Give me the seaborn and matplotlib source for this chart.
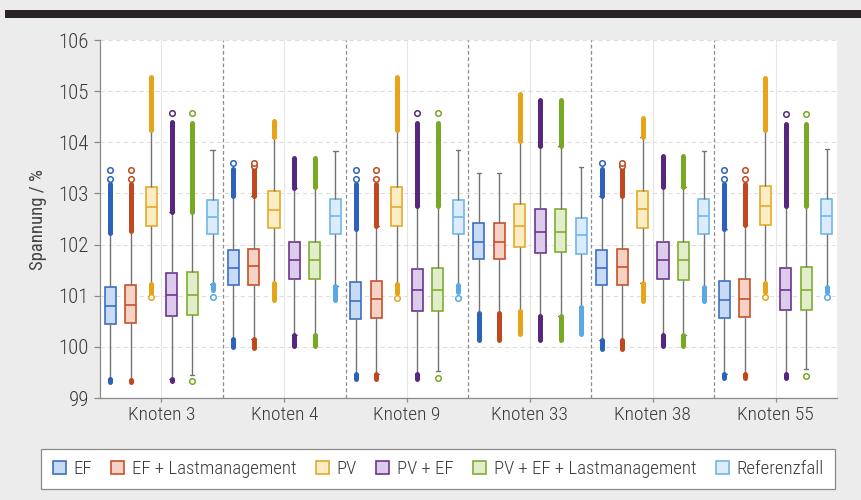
import numpy as np
import pandas as pd
import matplotlib
matplotlib.use("Agg")
import matplotlib.pyplot as plt
import matplotlib.patches as mpatches
import seaborn as sns

knoten = ['Knoten 3', 'Knoten 4', 'Knoten 9', 'Knoten 33', 'Knoten 38', 'Knoten 55']
szenarien = ['EF', 'EF + Lastmanagement', 'PV', 'PV + EF', 'PV + EF + Lastmanagement', 'Referenzfall']

# Zeilen = Szenario, Spalten = Knoten
median = [
    [100.80, 101.55, 100.90, 102.06, 101.55, 100.92],
    [100.82, 101.58, 100.93, 102.06, 101.56, 100.93],
    [102.74, 102.68, 102.74, 102.36, 102.69, 102.75],
    [101.01, 101.69, 101.11, 102.25, 101.69, 101.12],
    [101.01, 101.69, 101.11, 102.25, 101.69, 101.12],
    [102.53, 102.56, 102.53, 102.18, 102.56, 102.56],
]
q1 = [
    [100.45, 101.20, 100.54, 101.71, 101.20, 100.56],
    [100.47, 101.21, 100.56, 101.71, 101.20, 100.58],
    [102.36, 102.32, 102.36, 101.95, 102.33, 102.38],
    [100.61, 101.32, 100.70, 101.84, 101.32, 100.72],
    [100.62, 101.32, 100.71, 101.85, 101.31, 100.72],
    [102.20, 102.21, 102.20, 101.81, 102.20, 102.21],
]
q3 = [
    [101.18, 101.90, 101.27, 102.42, 101.90, 101.29],
    [101.21, 101.92, 101.29, 102.42, 101.91, 101.32],
    [103.13, 103.04, 103.13, 102.79, 103.05, 103.15],
    [101.45, 102.05, 101.53, 102.69, 102.05, 101.54],
    [101.46, 102.05, 101.54, 102.69, 102.05, 101.56],
    [102.87, 102.90, 102.87, 102.52, 102.90, 102.89],
]
whis_lo = [
    [99.38, 100.16, 99.46, 100.67, 100.14, 99.46],
    [99.35, 100.16, 99.46, 100.67, 100.14, 99.46],
    [101.23, 101.25, 101.23, 100.71, 101.25, 101.24],
    [99.37, 100.24, 99.46, 100.61, 100.24, 99.46],
    [99.45, 100.24, 99.53, 100.61, 100.24, 99.56],
    [101.23, 101.19, 101.21, 100.78, 101.18, 101.18],
]
whis_hi = [
    [102.23, 102.95, 102.31, 103.40, 102.95, 102.31],
    [102.27, 102.95, 102.36, 103.40, 102.95, 102.38],
    [104.24, 104.10, 104.24, 104.02, 104.10, 104.24],
    [102.63, 103.11, 102.75, 103.92, 103.13, 102.75],
    [102.63, 103.13, 102.75, 103.92, 103.13, 102.75],
    [103.84, 103.82, 103.84, 103.51, 103.82, 103.86],
]
# obere / untere Enden der dichten Ausreisserbereiche (None = keine)
aus_hi = [
    [103.19, 103.47, 103.19, None, 103.47, 103.19],
    [103.19, 103.47, 103.19, None, 103.47, 103.19],
    [105.28, 104.42, 105.28, 104.94, 104.47, 105.26],
    [104.39, 103.70, 104.37, 104.83, 103.73, 104.35],
    [104.37, 103.70, 104.37, 104.83, 103.73, 104.35],
    [None, None, None, None, None, None],
]
aus_lo = [
    [99.32, 100.00, 99.37, 100.14, 99.96, 99.40],
    [99.32, 99.98, 99.37, 100.14, 99.96, 99.40],
    [101.05, 100.92, 101.05, 100.26, 100.90, 101.08],
    [99.33, 100.02, 99.37, 100.14, 100.01, 99.40],
    [None, 100.02, None, 100.14, 100.01, None],
    [101.11, 100.92, 101.08, 100.26, 100.90, 101.08],
]
# einzelne Ausreisser
einzeln = [
    [[103.28, 103.45], [103.60], [103.28, 103.45], [], [103.60], [103.28, 103.45]],
    [[103.28, 103.45], [103.53, 103.60], [103.28, 103.45], [], [103.53, 103.60], [103.28, 103.45]],
    [[100.97], [], [100.96], [], [], [100.98]],
    [[104.58], [], [104.58], [], [], [104.55]],
    [[104.58, 99.33], [], [104.58, 99.40], [], [], [104.55, 99.43]],
    [[100.97], [], [100.96], [], [], [100.98]],
]

fuell = ['#c8dbf4', '#f5d2c4', '#fcedc4', '#dccbea', '#e1edcb', '#dcecfa']
rand = ['#3c70c4', '#c8502b', '#e6a92a', '#6c3590', '#80ae30', '#70b6ea']
dunkel = ['#2c62bb', '#c0481f', '#e8a418', '#57267f', '#78a922', '#58a9e6']

rows = []
for i, s in enumerate(szenarien):
    for j, k in enumerate(knoten):
        for v in [whis_lo[i][j], q1[i][j], median[i][j], q3[i][j], whis_hi[i][j]]:
            rows.append({'Knoten': k, 'Szenario': s, 'Spannung': v})
df = pd.DataFrame(rows)

sns.set_style('white')
plt.rcParams['font.family'] = ['Roboto Condensed', 'DejaVu Sans']
plt.rcParams['font.stretch'] = 'condensed'
plt.rcParams['font.weight'] = 'light'

fig = plt.figure(figsize=(8.62, 5), dpi=100, facecolor='#ececec')
ax = fig.add_axes([0.116, 0.204, 0.855, 0.716])
ax.set_facecolor('white')

palette = dict(zip(szenarien, fuell))
for i, s in enumerate(szenarien):
    sns.boxplot(data=df[df['Szenario'] == s], x='Knoten', y='Spannung', hue='Szenario',
                order=knoten, hue_order=szenarien, palette=palette, saturation=1,
                dodge=True, width=1.0, gap=0.46, whis=(0, 100), linecolor=rand[i], linewidth=1.2,
                whiskerprops={'color': '#737373', 'linewidth': 1.0},
                capprops={'color': '#737373', 'linewidth': 1.0},
                capwidths=0.035, legend=False, ax=ax, zorder=3)

    xs = np.arange(len(knoten)) + (i - 2.5) / len(szenarien)
    for j in range(len(knoten)):
        if aus_hi[i][j] is not None:
            ax.vlines(xs[j], whis_hi[i][j], aus_hi[i][j], color=dunkel[i], lw=3.6,
                      capstyle='round', zorder=4)
        if aus_lo[i][j] is not None:
            ax.vlines(xs[j], aus_lo[i][j], whis_lo[i][j], color=dunkel[i], lw=3.6,
                      capstyle='round', zorder=4)
        if einzeln[i][j]:
            ax.scatter([xs[j]] * len(einzeln[i][j]), einzeln[i][j], s=16, facecolors='white',
                       edgecolors=dunkel[i], linewidths=1.1, zorder=5)

ax.set_ylim(99, 106)
ax.set_xlim(-0.5, len(knoten) - 0.5)
ax.set_yticks(range(99, 107))
ax.grid(axis='y', color='#dedede', linestyle=(0, (4, 3)), linewidth=0.8)
ax.grid(axis='x', color='#e6e6e6', linestyle='-', linewidth=0.8)
ax.set_axisbelow(True)
for b in np.arange(0.5, len(knoten) - 0.5, 1.0):
    ax.axvline(b, color='#8c8c8c', linestyle=(0, (3, 2)), linewidth=0.9, zorder=1)

for side in ['top', 'right']:
    ax.spines[side].set_visible(False)
for side in ['left', 'bottom']:
    ax.spines[side].set_color('#8a8a8a')
    ax.spines[side].set_linewidth(0.9)
ax.tick_params(axis='y', left=True, length=4, width=0.9, color='#8a8a8a',
               labelsize=15, labelcolor='#3a3a3a', pad=4)
ax.tick_params(axis='x', bottom=True, length=3, width=0.9, color='#8a8a8a',
               labelsize=14, labelcolor='#3a3a3a', pad=3)
ax.set_xlabel('')
ax.set_ylabel('Spannung / %', fontsize=13.5, color='#444444', labelpad=8)

# dunkler Balken oben
fig.add_artist(mpatches.Rectangle((0.006, 1 - 18 / 500), 1, 8 / 500, transform=fig.transFigure,
                                  color='#2b2325', lw=0))

handles = [mpatches.Patch(facecolor=fuell[i], edgecolor=rand[i], lw=1.2) for i in range(len(szenarien))]
leg = fig.legend(handles, szenarien, loc='center', ncol=6, mode='expand',
                 bbox_to_anchor=(32 / 862, 12 / 500, 812 / 862, 38 / 500),
                 frameon=True, fancybox=False, edgecolor='#8a8a8a', facecolor='white',
                 framealpha=1, handlelength=0.7, handleheight=0.7, handletextpad=0.4,
                 borderpad=0.6, fontsize=13.5)
for t in leg.get_texts():
    t.set_color('#3a3a3a')
leg.get_frame().set_linewidth(0.9)

fig.savefig('out.png', dpi=100, facecolor=fig.get_facecolor())
